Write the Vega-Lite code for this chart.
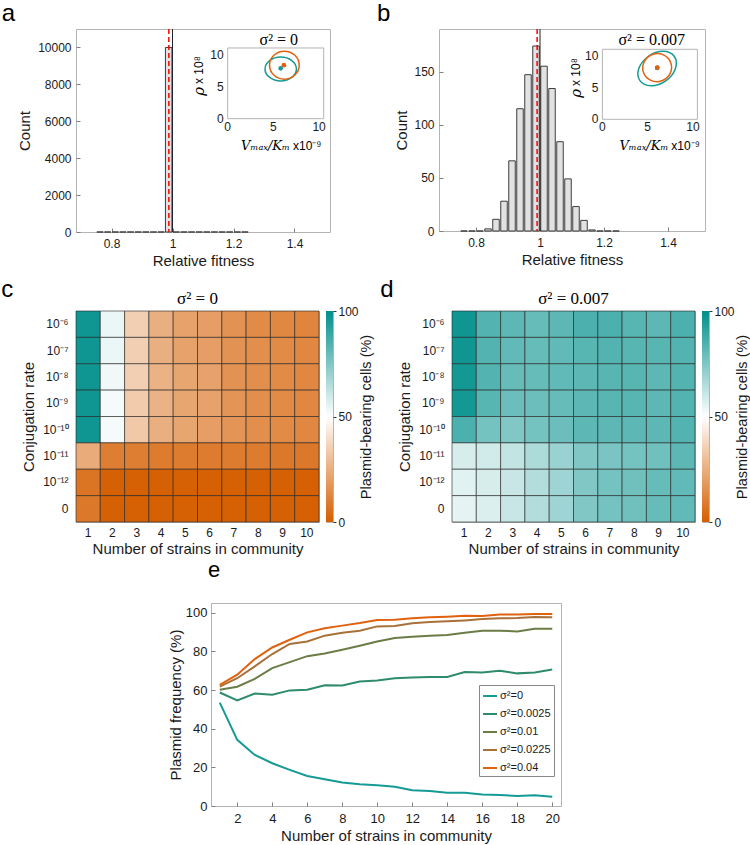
{
  "$schema": "https://vega.github.io/schema/vega-lite/v6.json",
  "padding": {"left": 1, "top": 1, "right": 0, "bottom": 0},
  "background": "white",
  "config": {
    "font": "Liberation Sans",
    "view": {"stroke": "#b4b4b4", "strokeWidth": 1},
    "axis": {
      "labelFont": "Liberation Sans", "labelFontSize": 12, "labelColor": "#1a1a1a",
      "titleFont": "Liberation Sans", "titleFontSize": 15, "titleFontWeight": "normal", "titleColor": "#1a1a1a",
      "grid": false, "domain": false, "tickColor": "#808080", "tickSize": -4, "labelPadding": 9, "titlePadding": 5
    },
    "title": {"font": "Liberation Sans", "fontWeight": "normal", "color": "#000000"}
  },
  "resolve": {"scale": {"color": "independent"}},
  "spacing": 1,
  "vconcat": [
    {
      "spacing": 9,
      "vconcat": [
        {
          "spacing": 45,
          "hconcat": [
            {
              "width": 254, "height": 203,
              "title": {"text": "a", "anchor": "start", "frame": "bounds", "fontSize": 24, "baseline": "alphabetic", "offset": -17, "dx": -16},
              "resolve": {"scale": {"x": "independent", "y": "independent"}},
              "layer": [
                {
                  "layer": [
                    {
                      "data": {"values": [
                        {"f": 0.7625, "c": 0}, {"f": 0.7875, "c": 0}, {"f": 0.8125, "c": 0}, {"f": 0.8375, "c": 0},
                        {"f": 0.8625, "c": 0}, {"f": 0.8875, "c": 0}, {"f": 0.9125, "c": 0}, {"f": 0.9375, "c": 0},
                        {"f": 0.9625, "c": 0}, {"f": 0.9875, "c": 10000}, {"f": 1.0125, "c": 0}, {"f": 1.0375, "c": 0},
                        {"f": 1.0625, "c": 0}, {"f": 1.0875, "c": 0}, {"f": 1.1125, "c": 0}, {"f": 1.1375, "c": 0},
                        {"f": 1.1625, "c": 0}, {"f": 1.1875, "c": 0}, {"f": 1.2125, "c": 0}, {"f": 1.2375, "c": 0}
                      ]},
                      "mark": {"type": "bar", "orient": "vertical", "size": 6.5, "fill": "#e2e2e2", "stroke": "#3c3c3c", "strokeWidth": 1},
                      "encoding": {
                        "x": {"field": "f", "type": "quantitative", "scale": {"domain": [0.7, 1.5], "nice": false, "zero": false},
                              "axis": {"values": [0.8, 1, 1.2, 1.4], "format": "~g", "title": "Relative fitness", "labelPadding": 10, "titlePadding": 4}},
                        "y": {"field": "c", "type": "quantitative", "scale": {"domain": [0, 11000], "nice": false},
                              "axis": {"values": [0, 2000, 4000, 6000, 8000, 10000], "format": "d", "title": "Count"}}
                      }
                    },
                    {
                      "data": {"values": [{"m": 0.988}]},
                      "mark": {"type": "rule", "color": "#ff0000", "strokeDash": [5, 3], "strokeWidth": 1.5},
                      "encoding": {"x": {"field": "m", "type": "quantitative"}}
                    },
                    {
                      "data": {"values": [{"m": 1}]},
                      "mark": {"type": "rule", "color": "#222222", "strokeWidth": 1},
                      "encoding": {"x": {"field": "m", "type": "quantitative"}}
                    }
                  ]
                },
                {
                  "layer": [
                    {
                      "data": {"values": [{"x0": 0, "x1": 10.5, "y0": 0, "y1": 11.1}]},
                      "mark": {"type": "rect", "fill": "white", "stroke": "#b4b4b4", "strokeWidth": 1},
                      "encoding": {
                        "x": {"field": "x0", "type": "quantitative", "scale": {"domain": [-16.59, 11.19], "nice": false, "zero": false}, "axis": null},
                        "x2": {"field": "x1"},
                        "y": {"field": "y0", "type": "quantitative", "scale": {"domain": [-17.79, 14.08], "nice": false, "zero": false}, "axis": null},
                        "y2": {"field": "y1"}
                      }
                    },
                    {
                      "data": {"values": [{"t": 0}, {"t": 5}, {"t": 10}]},
                      "mark": {"type": "text", "baseline": "top", "dy": 3, "fontSize": 12, "color": "#1a1a1a"},
                      "encoding": {"x": {"field": "t", "type": "quantitative"}, "y": {"datum": 0}, "text": {"field": "t"}}
                    },
                    {
                      "data": {"values": [{"t": 0}, {"t": 5}, {"t": 10}]},
                      "mark": {"type": "text", "align": "right", "baseline": "middle", "dx": -4, "fontSize": 12, "color": "#1a1a1a"},
                      "encoding": {"x": {"datum": 0}, "y": {"field": "t", "type": "quantitative"}, "text": {"field": "t"}}
                    },
                    {
                      "data": {"values": [{"lab": "σ² = 0"}]},
                      "mark": {"type": "text", "font": "Liberation Serif", "fontSize": 16, "baseline": "alphabetic", "dy": -3},
                      "encoding": {"x": {"datum": 5.59}, "y": {"datum": 11.1}, "text": {"field": "lab"}}
                    },
                    {
                      "data": {"values": [{"lab": "Vₘₐₓ/Kₘ"}]},
                      "mark": {"type": "text", "font": "DejaVu Serif", "fontStyle": "italic", "fontSize": 13, "align": "right", "baseline": "middle", "dy": 27, "dx": -1},
                      "encoding": {"x": {"datum": 6.92}, "y": {"datum": 0}, "text": {"field": "lab"}}
                    },
                    {
                      "data": {"values": [{"lab": "x10⁻⁹"}]},
                      "mark": {"type": "text", "fontSize": 12, "align": "left", "baseline": "middle", "dy": 27, "dx": 2},
                      "encoding": {"x": {"datum": 6.92}, "y": {"datum": 0}, "text": {"field": "lab"}}
                    },
                    {
                      "data": {"values": [{"lab": "ρ"}]},
                      "mark": {"type": "text", "font": "DejaVu Serif", "fontStyle": "italic", "fontSize": 15, "align": "right", "baseline": "middle", "angle": 270, "dy": -28.7, "dx": -1},
                      "encoding": {"x": {"datum": 0}, "y": {"datum": 5.13}, "text": {"field": "lab"}}
                    },
                    {
                      "data": {"values": [{"lab": "x 10⁸"}]},
                      "mark": {"type": "text", "fontSize": 12, "align": "left", "baseline": "middle", "angle": 270, "dy": -28.7, "dx": 2},
                      "encoding": {"x": {"datum": 0}, "y": {"datum": 5.13}, "text": {"field": "lab"}}
                    },
                    {
                      "data": {"values": [{"u": 5.8, "v": 7.8}]},
                      "mark": {"type": "point", "shape": "M -1 0 A 1 0.76 0 1 1 1 0 A 1 0.76 0 1 1 -1 0 Z", "size": 986, "filled": false, "color": "#159b96", "strokeWidth": 1.5, "opacity": 1},
                      "encoding": {"x": {"field": "u", "type": "quantitative"}, "y": {"field": "v", "type": "quantitative"}}
                    },
                    {
                      "data": {"values": [{"u": 6.2, "v": 8.4}]},
                      "mark": {"type": "point", "shape": "M -1 0 A 1 0.94 0 1 1 1 0 A 1 0.94 0 1 1 -1 0 Z", "size": 882, "filled": false, "color": "#e0620e", "strokeWidth": 1.5, "opacity": 1},
                      "encoding": {"x": {"field": "u", "type": "quantitative"}, "y": {"field": "v", "type": "quantitative"}}
                    },
                    {
                      "data": {"values": [{"u": 5.8, "v": 7.9}]},
                      "mark": {"type": "point", "shape": "circle", "size": 22, "filled": true, "color": "#159b96", "opacity": 1},
                      "encoding": {"x": {"field": "u", "type": "quantitative"}, "y": {"field": "v", "type": "quantitative"}}
                    },
                    {
                      "data": {"values": [{"u": 6.15, "v": 8.4}]},
                      "mark": {"type": "point", "shape": "circle", "size": 22, "filled": true, "color": "#e0620e", "opacity": 1},
                      "encoding": {"x": {"field": "u", "type": "quantitative"}, "y": {"field": "v", "type": "quantitative"}}
                    }
                  ]
                }
              ]
            },
            {
              "width": 266, "height": 202,
              "title": {"text": "b", "anchor": "start", "frame": "bounds", "fontSize": 24, "baseline": "alphabetic", "offset": -17, "dx": -18},
              "resolve": {"scale": {"x": "independent", "y": "independent"}},
              "layer": [
                {
                  "layer": [
                    {
                      "data": {"values": [
                        {"f": 0.7625, "c": 0}, {"f": 0.7875, "c": 0}, {"f": 0.8125, "c": 0}, {"f": 0.8375, "c": 2},
                        {"f": 0.8625, "c": 11}, {"f": 0.8875, "c": 28}, {"f": 0.9125, "c": 66}, {"f": 0.9375, "c": 115},
                        {"f": 0.9625, "c": 147}, {"f": 0.9875, "c": 174}, {"f": 1.0125, "c": 155}, {"f": 1.0375, "c": 134},
                        {"f": 1.0625, "c": 84}, {"f": 1.0875, "c": 49}, {"f": 1.1125, "c": 23}, {"f": 1.1375, "c": 10},
                        {"f": 1.1625, "c": 1}, {"f": 1.1875, "c": 0}, {"f": 1.2125, "c": 0}, {"f": 1.2375, "c": 0}
                      ]},
                      "mark": {"type": "bar", "orient": "vertical", "size": 6.5, "fill": "#e2e2e2", "stroke": "#3c3c3c", "strokeWidth": 1},
                      "encoding": {
                        "x": {"field": "f", "type": "quantitative", "scale": {"domain": [0.7, 1.5], "nice": false, "zero": false},
                              "axis": {"values": [0.8, 1, 1.2, 1.4], "format": "~g", "title": "Relative fitness", "labelPadding": 10, "titlePadding": 4}},
                        "y": {"field": "c", "type": "quantitative", "scale": {"domain": [0, 190], "nice": false},
                              "axis": {"values": [0, 50, 100, 150], "format": "d", "title": "Count", "titlePadding": 4}}
                      }
                    },
                    {
                      "data": {"values": [{"m": 0.991}]},
                      "mark": {"type": "rule", "color": "#ff0000", "strokeDash": [5, 3], "strokeWidth": 1.5},
                      "encoding": {"x": {"field": "m", "type": "quantitative"}}
                    },
                    {
                      "data": {"values": [{"m": 1}]},
                      "mark": {"type": "rule", "color": "#222222", "strokeWidth": 1},
                      "encoding": {"x": {"field": "m", "type": "quantitative"}}
                    }
                  ]
                },
                {
                  "layer": [
                    {
                      "data": {"values": [{"x0": 0, "x1": 10.5, "y0": 0, "y1": 11.1}]},
                      "mark": {"type": "rect", "fill": "white", "stroke": "#b4b4b4", "strokeWidth": 1},
                      "encoding": {
                        "x": {"field": "x0", "type": "quantitative", "scale": {"domain": [-18.06, 11.34], "nice": false, "zero": false}, "axis": null},
                        "x2": {"field": "x1"},
                        "y": {"field": "y0", "type": "quantitative", "scale": {"domain": [-17.71, 14.32], "nice": false, "zero": false}, "axis": null},
                        "y2": {"field": "y1"}
                      }
                    },
                    {
                      "data": {"values": [{"t": 0}, {"t": 5}, {"t": 10}]},
                      "mark": {"type": "text", "baseline": "top", "dy": 3, "fontSize": 12, "color": "#1a1a1a"},
                      "encoding": {"x": {"field": "t", "type": "quantitative"}, "y": {"datum": 0}, "text": {"field": "t"}}
                    },
                    {
                      "data": {"values": [{"t": 0}, {"t": 5}, {"t": 10}]},
                      "mark": {"type": "text", "align": "right", "baseline": "middle", "dx": -4, "fontSize": 12, "color": "#1a1a1a"},
                      "encoding": {"x": {"datum": 0}, "y": {"field": "t", "type": "quantitative"}, "text": {"field": "t"}}
                    },
                    {
                      "data": {"values": [{"lab": "σ² = 0.007"}]},
                      "mark": {"type": "text", "font": "Liberation Serif", "fontSize": 16, "baseline": "alphabetic", "dy": -4},
                      "encoding": {"x": {"datum": 5.45}, "y": {"datum": 11.1}, "text": {"field": "lab"}}
                    },
                    {
                      "data": {"values": [{"lab": "Vₘₐₓ/Kₘ"}]},
                      "mark": {"type": "text", "font": "DejaVu Serif", "fontStyle": "italic", "fontSize": 13, "align": "right", "baseline": "middle", "dy": 27, "dx": -1},
                      "encoding": {"x": {"datum": 7.4}, "y": {"datum": 0}, "text": {"field": "lab"}}
                    },
                    {
                      "data": {"values": [{"lab": "x10⁻⁹"}]},
                      "mark": {"type": "text", "fontSize": 12, "align": "left", "baseline": "middle", "dy": 27, "dx": 2},
                      "encoding": {"x": {"datum": 7.4}, "y": {"datum": 0}, "text": {"field": "lab"}}
                    },
                    {
                      "data": {"values": [{"lab": "ρ"}]},
                      "mark": {"type": "text", "font": "DejaVu Serif", "fontStyle": "italic", "fontSize": 15, "align": "right", "baseline": "middle", "angle": 270, "dy": -26.7, "dx": -1},
                      "encoding": {"x": {"datum": 0}, "y": {"datum": 4.96}, "text": {"field": "lab"}}
                    },
                    {
                      "data": {"values": [{"lab": "x 10⁸"}]},
                      "mark": {"type": "text", "fontSize": 12, "align": "left", "baseline": "middle", "angle": 270, "dy": -26.7, "dx": 2},
                      "encoding": {"x": {"datum": 0}, "y": {"datum": 4.96}, "text": {"field": "lab"}}
                    },
                    {
                      "data": {"values": [{"u": 6.05, "v": 8.05}]},
                      "mark": {"type": "point", "shape": "M -1 0 A 1 0.714 0 1 1 1 0 A 1 0.714 0 1 1 -1 0 Z", "size": 1764, "angle": 325, "filled": false, "color": "#159b96", "strokeWidth": 1.5, "opacity": 1},
                      "encoding": {"x": {"field": "u", "type": "quantitative"}, "y": {"field": "v", "type": "quantitative"}}
                    },
                    {
                      "data": {"values": [{"u": 6.05, "v": 8.2}]},
                      "mark": {"type": "point", "shape": "M -1 0 A 1 0.96 0 1 1 1 0 A 1 0.96 0 1 1 -1 0 Z", "size": 841, "angle": 340, "filled": false, "color": "#e0620e", "strokeWidth": 1.5, "opacity": 1},
                      "encoding": {"x": {"field": "u", "type": "quantitative"}, "y": {"field": "v", "type": "quantitative"}}
                    },
                    {
                      "data": {"values": [{"u": 6.05, "v": 8.15}]},
                      "mark": {"type": "point", "shape": "circle", "size": 22, "filled": true, "color": "#159b96", "opacity": 1},
                      "encoding": {"x": {"field": "u", "type": "quantitative"}, "y": {"field": "v", "type": "quantitative"}}
                    },
                    {
                      "data": {"values": [{"u": 6.08, "v": 8.2}]},
                      "mark": {"type": "point", "shape": "circle", "size": 22, "filled": true, "color": "#e0620e", "opacity": 1},
                      "encoding": {"x": {"field": "u", "type": "quantitative"}, "y": {"field": "v", "type": "quantitative"}}
                    }
                  ]
                }
              ]
            }
          ]
        },
        {
          "spacing": 6,
          "hconcat": [
            {
              "title": {"text": "c", "anchor": "start", "frame": "bounds", "fontSize": 24, "baseline": "alphabetic", "offset": -32, "dx": -20},
              "spacing": 4,
              "hconcat": [
                {
                  "width": 243, "height": 211,
                  "title": {"text": "σ² = 0", "font": "Liberation Serif", "fontSize": 17, "baseline": "alphabetic", "offset": -10},
                  "data": {"values": [
                    {"s":1,"r":"10⁻⁶","p":97},{"s":2,"r":"10⁻⁶","p":54},{"s":3,"r":"10⁻⁶","p":35},{"s":4,"r":"10⁻⁶","p":25},{"s":5,"r":"10⁻⁶","p":21},{"s":6,"r":"10⁻⁶","p":20},{"s":7,"r":"10⁻⁶","p":16},{"s":8,"r":"10⁻⁶","p":14},{"s":9,"r":"10⁻⁶","p":13},{"s":10,"r":"10⁻⁶","p":12},
                    {"s":1,"r":"10⁻⁷","p":97},{"s":2,"r":"10⁻⁷","p":54},{"s":3,"r":"10⁻⁷","p":35},{"s":4,"r":"10⁻⁷","p":25},{"s":5,"r":"10⁻⁷","p":21},{"s":6,"r":"10⁻⁷","p":20},{"s":7,"r":"10⁻⁷","p":16},{"s":8,"r":"10⁻⁷","p":15},{"s":9,"r":"10⁻⁷","p":14},{"s":10,"r":"10⁻⁷","p":13},
                    {"s":1,"r":"10⁻⁸","p":97},{"s":2,"r":"10⁻⁸","p":53},{"s":3,"r":"10⁻⁸","p":35},{"s":4,"r":"10⁻⁸","p":26},{"s":5,"r":"10⁻⁸","p":22},{"s":6,"r":"10⁻⁸","p":21},{"s":7,"r":"10⁻⁸","p":16},{"s":8,"r":"10⁻⁸","p":15},{"s":9,"r":"10⁻⁸","p":14},{"s":10,"r":"10⁻⁸","p":13},
                    {"s":1,"r":"10⁻⁹","p":97},{"s":2,"r":"10⁻⁹","p":52},{"s":3,"r":"10⁻⁹","p":34},{"s":4,"r":"10⁻⁹","p":26},{"s":5,"r":"10⁻⁹","p":22},{"s":6,"r":"10⁻⁹","p":21},{"s":7,"r":"10⁻⁹","p":17},{"s":8,"r":"10⁻⁹","p":15},{"s":9,"r":"10⁻⁹","p":14},{"s":10,"r":"10⁻⁹","p":13},
                    {"s":1,"r":"10⁻¹⁰","p":97},{"s":2,"r":"10⁻¹⁰","p":52},{"s":3,"r":"10⁻¹⁰","p":33},{"s":4,"r":"10⁻¹⁰","p":25},{"s":5,"r":"10⁻¹⁰","p":22},{"s":6,"r":"10⁻¹⁰","p":20},{"s":7,"r":"10⁻¹⁰","p":17},{"s":8,"r":"10⁻¹⁰","p":15},{"s":9,"r":"10⁻¹⁰","p":14},{"s":10,"r":"10⁻¹⁰","p":13},
                    {"s":1,"r":"10⁻¹¹","p":24},{"s":2,"r":"10⁻¹¹","p":10},{"s":3,"r":"10⁻¹¹","p":10},{"s":4,"r":"10⁻¹¹","p":9},{"s":5,"r":"10⁻¹¹","p":9},{"s":6,"r":"10⁻¹¹","p":9},{"s":7,"r":"10⁻¹¹","p":9},{"s":8,"r":"10⁻¹¹","p":9},{"s":9,"r":"10⁻¹¹","p":8},{"s":10,"r":"10⁻¹¹","p":8},
                    {"s":1,"r":"10⁻¹²","p":7},{"s":2,"r":"10⁻¹²","p":1},{"s":3,"r":"10⁻¹²","p":1},{"s":4,"r":"10⁻¹²","p":1},{"s":5,"r":"10⁻¹²","p":1},{"s":6,"r":"10⁻¹²","p":1},{"s":7,"r":"10⁻¹²","p":1},{"s":8,"r":"10⁻¹²","p":1},{"s":9,"r":"10⁻¹²","p":1},{"s":10,"r":"10⁻¹²","p":1},
                    {"s":1,"r":"0","p":8},{"s":2,"r":"0","p":1},{"s":3,"r":"0","p":1},{"s":4,"r":"0","p":1},{"s":5,"r":"0","p":1},{"s":6,"r":"0","p":1},{"s":7,"r":"0","p":1},{"s":8,"r":"0","p":1},{"s":9,"r":"0","p":1},{"s":10,"r":"0","p":1}
                  ]},
                  "mark": {"type": "rect", "stroke": "#222222", "strokeWidth": 1, "strokeOpacity": 0.6},
                  "encoding": {
                    "x": {"field": "s", "type": "ordinal", "scale": {"paddingInner": 0, "paddingOuter": 0},
                          "axis": {"labelAngle": 0, "ticks": false, "labelPadding": 5, "title": "Number of strains in community", "titlePadding": 3}},
                    "y": {"field": "r", "type": "ordinal", "sort": ["10⁻⁶","10⁻⁷","10⁻⁸","10⁻⁹","10⁻¹⁰","10⁻¹¹","10⁻¹²","0"], "scale": {"paddingInner": 0, "paddingOuter": 0},
                          "axis": {"ticks": false, "labelPadding": 8, "title": "Conjugation rate", "titlePadding": 6}},
                    "color": {"field": "p", "type": "quantitative", "scale": {"domain": [0, 50, 100], "range": ["#d55e00", "#ffffff", "#008f8b"], "interpolate": "rgb"}, "legend": null}
                  }
                },
                {
                  "width": 7, "height": 211,
                  "data": {"values": [{"lo": 0, "hi": 100}]},
                  "mark": {"type": "rect", "color": {"gradient": "linear", "x1": 0, "y1": 1, "x2": 0, "y2": 0, "stops": [{"offset": 0, "color": "#d55e00"}, {"offset": 0.5, "color": "#ffffff"}, {"offset": 1, "color": "#008f8b"}]}},
                  "encoding": {
                    "x": {"datum": 0, "type": "quantitative", "scale": {"domain": [0, 1]}, "axis": null},
                    "x2": {"datum": 1},
                    "y": {"field": "lo", "type": "quantitative", "scale": {"domain": [0, 100], "nice": false},
                          "axis": {"orient": "right", "values": [0, 50, 100], "tickSize": 3, "tickColor": "#333333", "labelPadding": 2, "title": "Plasmid-bearing cells (%)", "titleFontSize": 14.5, "titleAngle": 270, "titleBaseline": "top", "titlePadding": 1}},
                    "y2": {"field": "hi"}
                  }
                }
              ]
            },
            {
              "title": {"text": "d", "anchor": "start", "frame": "bounds", "fontSize": 24, "baseline": "alphabetic", "offset": -32, "dx": -17},
              "spacing": 4,
              "hconcat": [
                {
                  "width": 243, "height": 211,
                  "title": {"text": "σ² = 0.007", "font": "Liberation Serif", "fontSize": 17, "baseline": "alphabetic", "offset": -10},
                  "data": {"values": [
                    {"s":1,"r":"10⁻⁶","p":97},{"s":2,"r":"10⁻⁶","p":84},{"s":3,"r":"10⁻⁶","p":82},{"s":4,"r":"10⁻⁶","p":80},{"s":5,"r":"10⁻⁶","p":82},{"s":6,"r":"10⁻⁶","p":85},{"s":7,"r":"10⁻⁶","p":85},{"s":8,"r":"10⁻⁶","p":83},{"s":9,"r":"10⁻⁶","p":82},{"s":10,"r":"10⁻⁶","p":85},
                    {"s":1,"r":"10⁻⁷","p":97},{"s":2,"r":"10⁻⁷","p":84},{"s":3,"r":"10⁻⁷","p":81},{"s":4,"r":"10⁻⁷","p":80},{"s":5,"r":"10⁻⁷","p":81},{"s":6,"r":"10⁻⁷","p":83},{"s":7,"r":"10⁻⁷","p":84},{"s":8,"r":"10⁻⁷","p":83},{"s":9,"r":"10⁻⁷","p":83},{"s":10,"r":"10⁻⁷","p":84},
                    {"s":1,"r":"10⁻⁸","p":96},{"s":2,"r":"10⁻⁸","p":84},{"s":3,"r":"10⁻⁸","p":80},{"s":4,"r":"10⁻⁸","p":80},{"s":5,"r":"10⁻⁸","p":81},{"s":6,"r":"10⁻⁸","p":82},{"s":7,"r":"10⁻⁸","p":83},{"s":8,"r":"10⁻⁸","p":83},{"s":9,"r":"10⁻⁸","p":82},{"s":10,"r":"10⁻⁸","p":84},
                    {"s":1,"r":"10⁻⁹","p":96},{"s":2,"r":"10⁻⁹","p":83},{"s":3,"r":"10⁻⁹","p":79},{"s":4,"r":"10⁻⁹","p":79},{"s":5,"r":"10⁻⁹","p":80},{"s":6,"r":"10⁻⁹","p":82},{"s":7,"r":"10⁻⁹","p":83},{"s":8,"r":"10⁻⁹","p":83},{"s":9,"r":"10⁻⁹","p":82},{"s":10,"r":"10⁻⁹","p":84},
                    {"s":1,"r":"10⁻¹⁰","p":85},{"s":2,"r":"10⁻¹⁰","p":77},{"s":3,"r":"10⁻¹⁰","p":75},{"s":4,"r":"10⁻¹⁰","p":77},{"s":5,"r":"10⁻¹⁰","p":79},{"s":6,"r":"10⁻¹⁰","p":82},{"s":7,"r":"10⁻¹⁰","p":82},{"s":8,"r":"10⁻¹⁰","p":82},{"s":9,"r":"10⁻¹⁰","p":82},{"s":10,"r":"10⁻¹⁰","p":84},
                    {"s":1,"r":"10⁻¹¹","p":58},{"s":2,"r":"10⁻¹¹","p":59},{"s":3,"r":"10⁻¹¹","p":62},{"s":4,"r":"10⁻¹¹","p":66},{"s":5,"r":"10⁻¹¹","p":70},{"s":6,"r":"10⁻¹¹","p":75},{"s":7,"r":"10⁻¹¹","p":76},{"s":8,"r":"10⁻¹¹","p":77},{"s":9,"r":"10⁻¹¹","p":78},{"s":10,"r":"10⁻¹¹","p":82},
                    {"s":1,"r":"10⁻¹²","p":56},{"s":2,"r":"10⁻¹²","p":58},{"s":3,"r":"10⁻¹²","p":61},{"s":4,"r":"10⁻¹²","p":65},{"s":5,"r":"10⁻¹²","p":69},{"s":6,"r":"10⁻¹²","p":75},{"s":7,"r":"10⁻¹²","p":77},{"s":8,"r":"10⁻¹²","p":78},{"s":9,"r":"10⁻¹²","p":80},{"s":10,"r":"10⁻¹²","p":81},
                    {"s":1,"r":"0","p":55},{"s":2,"r":"0","p":57},{"s":3,"r":"0","p":61},{"s":4,"r":"0","p":65},{"s":5,"r":"0","p":69},{"s":6,"r":"0","p":75},{"s":7,"r":"0","p":77},{"s":8,"r":"0","p":78},{"s":9,"r":"0","p":80},{"s":10,"r":"0","p":81}
                  ]},
                  "mark": {"type": "rect", "stroke": "#222222", "strokeWidth": 1, "strokeOpacity": 0.6},
                  "encoding": {
                    "x": {"field": "s", "type": "ordinal", "scale": {"paddingInner": 0, "paddingOuter": 0},
                          "axis": {"labelAngle": 0, "ticks": false, "labelPadding": 5, "title": "Number of strains in community", "titlePadding": 3}},
                    "y": {"field": "r", "type": "ordinal", "sort": ["10⁻⁶","10⁻⁷","10⁻⁸","10⁻⁹","10⁻¹⁰","10⁻¹¹","10⁻¹²","0"], "scale": {"paddingInner": 0, "paddingOuter": 0},
                          "axis": {"ticks": false, "labelPadding": 8, "title": "Conjugation rate", "titlePadding": 6}},
                    "color": {"field": "p", "type": "quantitative", "scale": {"domain": [0, 50, 100], "range": ["#d55e00", "#ffffff", "#008f8b"], "interpolate": "rgb"}, "legend": null}
                  }
                },
                {
                  "width": 7, "height": 211,
                  "data": {"values": [{"lo": 0, "hi": 100}]},
                  "mark": {"type": "rect", "color": {"gradient": "linear", "x1": 0, "y1": 1, "x2": 0, "y2": 0, "stops": [{"offset": 0, "color": "#d55e00"}, {"offset": 0.5, "color": "#ffffff"}, {"offset": 1, "color": "#008f8b"}]}},
                  "encoding": {
                    "x": {"datum": 0, "type": "quantitative", "scale": {"domain": [0, 1]}, "axis": null},
                    "x2": {"datum": 1},
                    "y": {"field": "lo", "type": "quantitative", "scale": {"domain": [0, 100], "nice": false},
                          "axis": {"orient": "right", "values": [0, 50, 100], "tickSize": 3, "tickColor": "#333333", "labelPadding": 2, "title": "Plasmid-bearing cells (%)", "titleFontSize": 14.5, "titleAngle": 270, "titleBaseline": "top", "titlePadding": 1}},
                    "y2": {"field": "hi"}
                  }
                }
              ]
            }
          ]
        }
      ]
    },
    {
      "spacing": 0,
      "resolve": {"scale": {"color": "independent"}},
      "hconcat": [
        {
          "width": 91, "height": 10,
          "view": {"stroke": null},
          "data": {"values": []},
          "mark": "point"
        },
        {
          "width": 350, "height": 203,
          "title": {"text": "e", "anchor": "start", "frame": "group", "fontSize": 22, "baseline": "alphabetic", "offset": 4, "dx": -3},
          "data": {"values": [
            {"n":1,"f":53.5,"s":"σ²=0"},{"n":2,"f":34.2,"s":"σ²=0"},{"n":3,"f":26.4,"s":"σ²=0"},{"n":4,"f":22.1,"s":"σ²=0"},{"n":5,"f":18.7,"s":"σ²=0"},{"n":6,"f":15.5,"s":"σ²=0"},{"n":7,"f":13.8,"s":"σ²=0"},{"n":8,"f":12.1,"s":"σ²=0"},{"n":9,"f":11.2,"s":"σ²=0"},{"n":10,"f":10.7,"s":"σ²=0"},
            {"n":11,"f":10.0,"s":"σ²=0"},{"n":12,"f":8.1,"s":"σ²=0"},{"n":13,"f":7.8,"s":"σ²=0"},{"n":14,"f":6.9,"s":"σ²=0"},{"n":15,"f":6.9,"s":"σ²=0"},{"n":16,"f":6.0,"s":"σ²=0"},{"n":17,"f":5.7,"s":"σ²=0"},{"n":18,"f":5.2,"s":"σ²=0"},{"n":19,"f":5.5,"s":"σ²=0"},{"n":20,"f":4.8,"s":"σ²=0"},
            {"n":1,"f":58.7,"s":"σ²=0.0025"},{"n":2,"f":54.6,"s":"σ²=0.0025"},{"n":3,"f":58.2,"s":"σ²=0.0025"},{"n":4,"f":57.5,"s":"σ²=0.0025"},{"n":5,"f":59.8,"s":"σ²=0.0025"},{"n":6,"f":60.1,"s":"σ²=0.0025"},{"n":7,"f":62.5,"s":"σ²=0.0025"},{"n":8,"f":62.3,"s":"σ²=0.0025"},{"n":9,"f":64.4,"s":"σ²=0.0025"},{"n":10,"f":64.9,"s":"σ²=0.0025"},
            {"n":11,"f":66.1,"s":"σ²=0.0025"},{"n":12,"f":66.5,"s":"σ²=0.0025"},{"n":13,"f":66.7,"s":"σ²=0.0025"},{"n":14,"f":66.7,"s":"σ²=0.0025"},{"n":15,"f":69.3,"s":"σ²=0.0025"},{"n":16,"f":69.1,"s":"σ²=0.0025"},{"n":17,"f":69.9,"s":"σ²=0.0025"},{"n":18,"f":68.6,"s":"σ²=0.0025"},{"n":19,"f":69.1,"s":"σ²=0.0025"},{"n":20,"f":70.6,"s":"σ²=0.0025"},
            {"n":1,"f":60.1,"s":"σ²=0.01"},{"n":2,"f":61.7,"s":"σ²=0.01"},{"n":3,"f":65.8,"s":"σ²=0.01"},{"n":4,"f":71.3,"s":"σ²=0.01"},{"n":5,"f":74.4,"s":"σ²=0.01"},{"n":6,"f":77.5,"s":"σ²=0.01"},{"n":7,"f":78.9,"s":"σ²=0.01"},{"n":8,"f":80.8,"s":"σ²=0.01"},{"n":9,"f":82.9,"s":"σ²=0.01"},{"n":10,"f":85.1,"s":"σ²=0.01"},
            {"n":11,"f":86.9,"s":"σ²=0.01"},{"n":12,"f":87.6,"s":"σ²=0.01"},{"n":13,"f":88.1,"s":"σ²=0.01"},{"n":14,"f":88.4,"s":"σ²=0.01"},{"n":15,"f":89.6,"s":"σ²=0.01"},{"n":16,"f":90.7,"s":"σ²=0.01"},{"n":17,"f":90.7,"s":"σ²=0.01"},{"n":18,"f":90.3,"s":"σ²=0.01"},{"n":19,"f":91.7,"s":"σ²=0.01"},{"n":20,"f":91.7,"s":"σ²=0.01"},
            {"n":1,"f":61.7,"s":"σ²=0.0225"},{"n":2,"f":66.1,"s":"σ²=0.0225"},{"n":3,"f":72.2,"s":"σ²=0.0225"},{"n":4,"f":78.6,"s":"σ²=0.0225"},{"n":5,"f":83.8,"s":"σ²=0.0225"},{"n":6,"f":85.1,"s":"σ²=0.0225"},{"n":7,"f":88.1,"s":"σ²=0.0225"},{"n":8,"f":89.6,"s":"σ²=0.0225"},{"n":9,"f":90.7,"s":"σ²=0.0225"},{"n":10,"f":92.9,"s":"σ²=0.0225"},
            {"n":11,"f":93.1,"s":"σ²=0.0225"},{"n":12,"f":94.5,"s":"σ²=0.0225"},{"n":13,"f":95.2,"s":"σ²=0.0225"},{"n":14,"f":95.5,"s":"σ²=0.0225"},{"n":15,"f":96.0,"s":"σ²=0.0225"},{"n":16,"f":96.7,"s":"σ²=0.0225"},{"n":17,"f":97.1,"s":"σ²=0.0225"},{"n":18,"f":97.2,"s":"σ²=0.0225"},{"n":19,"f":97.8,"s":"σ²=0.0225"},{"n":20,"f":97.6,"s":"σ²=0.0225"},
            {"n":1,"f":62.7,"s":"σ²=0.04"},{"n":2,"f":67.9,"s":"σ²=0.04"},{"n":3,"f":76.0,"s":"σ²=0.04"},{"n":4,"f":82.0,"s":"σ²=0.04"},{"n":5,"f":86.0,"s":"σ²=0.04"},{"n":6,"f":89.8,"s":"σ²=0.04"},{"n":7,"f":91.9,"s":"σ²=0.04"},{"n":8,"f":93.3,"s":"σ²=0.04"},{"n":9,"f":94.6,"s":"σ²=0.04"},{"n":10,"f":96.2,"s":"σ²=0.04"},
            {"n":11,"f":96.4,"s":"σ²=0.04"},{"n":12,"f":97.1,"s":"σ²=0.04"},{"n":13,"f":97.6,"s":"σ²=0.04"},{"n":14,"f":97.9,"s":"σ²=0.04"},{"n":15,"f":98.4,"s":"σ²=0.04"},{"n":16,"f":98.3,"s":"σ²=0.04"},{"n":17,"f":99.0,"s":"σ²=0.04"},{"n":18,"f":99.1,"s":"σ²=0.04"},{"n":19,"f":99.3,"s":"σ²=0.04"},{"n":20,"f":99.3,"s":"σ²=0.04"}
          ]},
          "mark": {"type": "line", "strokeWidth": 2},
          "encoding": {
            "x": {"field": "n", "type": "quantitative", "scale": {"domain": [0.5, 20.5], "nice": false, "zero": false},
                  "axis": {"values": [2, 4, 6, 8, 10, 12, 14, 16, 18, 20], "title": "Number of strains in community", "labelFontSize": 13, "labelPadding": 10, "titlePadding": 3}},
            "y": {"field": "f", "type": "quantitative", "scale": {"domain": [0, 105], "nice": false},
                  "axis": {"values": [0, 20, 40, 60, 80, 100], "title": "Plasmid frequency (%)", "labelFontSize": 13, "labelPadding": 8, "titlePadding": 2}},
            "color": {"field": "s", "type": "nominal",
                      "scale": {"domain": ["σ²=0", "σ²=0.0025", "σ²=0.01", "σ²=0.0225", "σ²=0.04"], "range": ["#159b96", "#2e8b6d", "#6b7c47", "#a8713a", "#e0620e"]},
                      "legend": {"orient": "none", "legendX": 268, "legendY": 82, "title": null, "symbolType": "stroke", "symbolSize": 196, "symbolStrokeWidth": 2,
                                 "labelFontSize": 11, "labelOffset": 2, "rowPadding": 5, "padding": 3, "strokeColor": "#888888", "fillColor": "white", "labelColor": "#1a1a1a", "labelFont": "Liberation Sans"}}
          }
        }
      ]
    }
  ]
}
